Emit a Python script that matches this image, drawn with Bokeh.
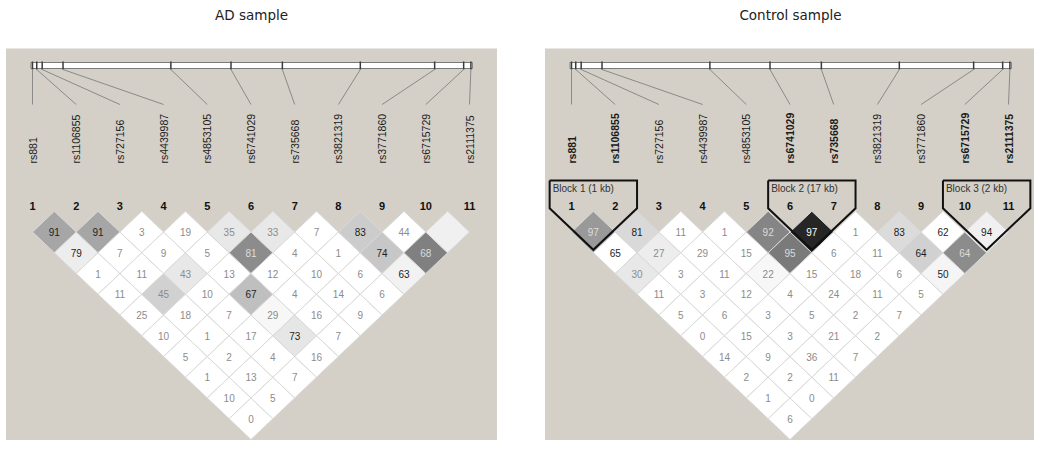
import numpy as np
from bokeh.plotting import figure
from bokeh.models import Range1d, ColumnDataSource
from bokeh.core.properties import value
from bokeh.embed import file_html
from bokeh.resources import INLINE

# ---------------- data ----------------
titles = ["AD sample", "Control sample"]
snp_names = ["rs881", "rs1106855", "rs727156", "rs4439987", "rs4853105", "rs6741029",
             "rs735668", "rs3821319", "rs3771860", "rs6715729", "rs2111375"]
snp_index = [str(k) for k in range(1, 12)]
# relative marker positions along the region (kb)
pos_kb = [0.0, 1.4, 3.2, 10.1, 45.8, 65.7, 82.7, 108.5, 133.1, 142.7, 145.1]

# D' (x100) upper triangle, row i holds pairs (i, j>i); None = 100 (no number shown)
ad_dprime = [
    [91, 79, 1, 11, 25, 10, 5, 1, 10, 0],
    [91, 7, 11, 45, 18, 1, 2, 13, 5],
    [3, 9, 43, 10, 7, 17, 4, 7],
    [19, 5, 13, 67, 29, 73, 16],
    [35, 81, 12, 4, 16, 7],
    [33, 4, 10, 14, 9],
    [7, 1, 6, 6],
    [83, 74, 63],
    [44, 68],
    [None],
]
ad_shade = [
    [0.35, 0.07, 0, 0, 0, 0, 0, 0, 0, 0],
    [0.35, 0, 0, 0.18, 0, 0, 0, 0, 0],
    [0, 0, 0.09, 0, 0, 0, 0, 0],
    [0, 0, 0, 0.25, 0.03, 0.10, 0],
    [0.09, 0.45, 0, 0, 0, 0],
    [0.09, 0, 0, 0, 0],
    [0, 0, 0, 0],
    [0.20, 0.22, 0.05],
    [0, 0.50],
    [0.06],
]
ctrl_dprime = [
    [97, 65, 30, 11, 5, 0, 14, 2, 1, 6],
    [81, 27, 3, 3, 6, 15, 9, 2, 0],
    [11, 29, 11, 12, 3, 3, 36, 11],
    [1, 15, 22, 4, 5, 21, 7],
    [92, 95, 15, 24, 2, 2],
    [97, 6, 18, 11, 7],
    [1, 11, 6, 5],
    [83, 64, 50],
    [62, 64],
    [94],
]
ctrl_shade = [
    [0.40, 0, 0.09, 0, 0, 0, 0, 0, 0, 0],
    [0.15, 0.07, 0, 0, 0, 0, 0, 0, 0],
    [0, 0, 0, 0, 0, 0, 0, 0],
    [0, 0, 0.03, 0, 0, 0, 0],
    [0.48, 0.52, 0, 0, 0, 0],
    [0.85, 0, 0, 0, 0],
    [0, 0, 0, 0],
    [0.14, 0.18, 0.04],
    [0, 0.45],
    [0.06],
]
ctrl_bold = [True, True, False, False, False, True, True, False, False, True, True]
ctrl_blocks = [(1, 2, "Block 1 (1 kb)"), (6, 7, "Block 2 (17 kb)"), (10, 11, "Block 3 (2 kb)")]

# ---------------- layout (pixel space) ----------------
W, H = 1034, 440
p = figure(width=W, height=H, x_range=Range1d(0, W), y_range=Range1d(H, 0),
           output_backend="svg", toolbar_location=None, min_border=0,
           x_axis_type=None, y_axis_type=None)
p.outline_line_color = None
p.grid.visible = False
p.background_fill_color = "white"
p.border_fill_color = "white"

FONT = value("Liberation Sans")
panel_x0 = [5.5, 544.5]
PANEL_W = 491
PANEL_TOP, PANEL_BOT = 48, 452
COL0 = 26.5
SP = 43.7
HH = SP / 2          # horizontal half-diagonal of a cell
VH = 20.75           # vertical half-diagonal of a cell
ROW0 = 231.5
SPAN_PX = 438.4


def grey(shade):
    g = int(round(255 * (1 - shade)))
    return "#%02x%02x%02x" % (g, g, g)


def draw_panel(x0, title, dprime, shade, bold, blocks):
    xs_col = [x0 + COL0 + k * SP for k in range(len(snp_names))]
    p.quad(left=[x0], right=[x0 + PANEL_W], top=[PANEL_TOP], bottom=[PANEL_BOT],
           fill_color="#d4d0c8", line_color=None)
    p.text(x=[x0 + PANEL_W / 2], y=[14], text=[title], text_align="center",
           text_baseline="middle", text_font=value("DejaVu Sans"),
           text_font_size="13.5px", text_color="#222222")
    # marker bar
    span = pos_kb[-1] - pos_kb[0]
    tick_x = [xs_col[0] + (v - pos_kb[0]) / span * SPAN_PX for v in pos_kb]
    p.quad(left=[tick_x[0] - 1.5], right=[tick_x[-1] + 1.5], top=[62], bottom=[68],
           fill_color="white", line_color="#7a7a7a", line_width=1)
    p.segment(x0=tick_x, y0=[61] * 11, x1=tick_x, y1=[69] * 11,
              line_color="#3a3a3a", line_width=1.5)
    p.segment(x0=tick_x, y0=[69] * 11, x1=xs_col, y1=[104] * 11,
              line_color="#8a8a8a", line_width=1)
    styles = ["bold" if b else "normal" for b in bold]
    lab = ColumnDataSource(dict(x=xs_col, y=[163] * 11, t=snp_names, st=styles))
    p.text(x="x", y="y", text="t", source=lab, angle=np.pi / 2, text_align="left",
           text_baseline="middle", text_font=FONT, text_font_size="10.5px",
           text_font_style="st", text_color="#1a1a1a")
    p.text(x=xs_col, y=[205] * 11, text=snp_index, text_align="center",
           text_baseline="middle", text_font=FONT, text_font_size="11px",
           text_font_style="bold", text_color="#111111")
    # LD cells
    pxs, pys, fills, tx, ty, tt, tc = [], [], [], [], [], [], []
    for i, row in enumerate(dprime):
        for k, v in enumerate(row):
            j = i + 1 + k
            d = j - i
            cx = (xs_col[i] + xs_col[j]) / 2
            cy = ROW0 + (d - 1) * VH
            pxs.append([cx - HH, cx, cx + HH, cx])
            pys.append([cy, cy - VH, cy, cy + VH])
            s = shade[i][k]
            fills.append(grey(s))
            if v is not None:
                tx.append(cx)
                ty.append(cy)
                tt.append(str(v))
                if s >= 0.7:
                    tc.append("#ffffff")
                elif s >= 0.4:
                    tc.append("#dcdcdc")
                elif v >= 50:
                    tc.append("#1e1e1e")
                else:
                    tc.append("#8c8c8c")
    p.patches(xs=pxs, ys=pys, fill_color=fills, line_color="#d9d9d9", line_width=1)
    p.text(x=tx, y=ty, text=tt, text_color=tc, text_align="center",
           text_baseline="middle", text_font=FONT, text_font_size="10px")
    # haplotype blocks
    for a, b, name in blocks:
        xa, xb = xs_col[a - 1], xs_col[b - 1]
        cx = (xa + xb) / 2
        half = (xb - xa) / 2 + HH
        ybot = ROW0 + (b - a - 1) * VH + VH - 3
        yside = ybot - half * VH / HH
        L, R = cx - half, cx + half
        p.line(x=[L, R, R, cx, L, L], y=[180, 180, yside, ybot, yside, 180],
               line_color="#111111", line_width=2, line_join="miter")
        p.text(x=[L + 3], y=[188], text=[name], text_align="left",
               text_baseline="middle", text_font=FONT, text_font_size="10px",
               text_color="#333333")


draw_panel(panel_x0[0], titles[0], ad_dprime, ad_shade, [False] * 11, [])
draw_panel(panel_x0[1], titles[1], ctrl_dprime, ctrl_shade, ctrl_bold, ctrl_blocks)

open("out.html", "w").write(file_html(p, INLINE))
